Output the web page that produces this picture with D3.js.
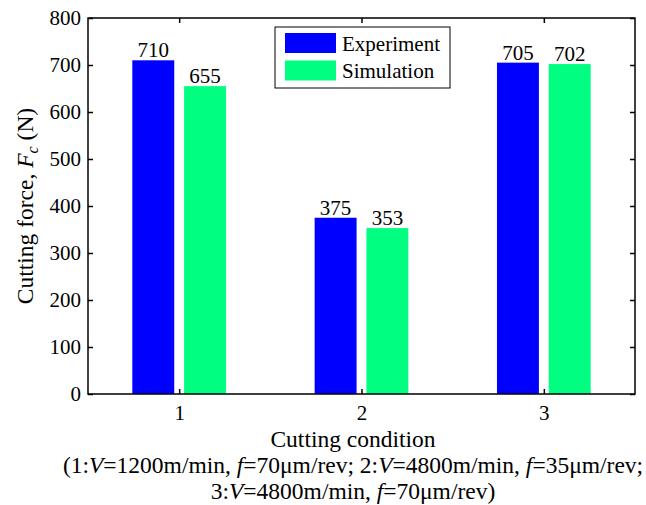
<!DOCTYPE html>
<html>
<head>
<meta charset="utf-8">
<script src="https://cdn.jsdelivr.net/npm/d3@7"></script>
<style>
  body { margin:0; background:#fff; }
  svg text { font-family:"Liberation Serif","Times New Roman",serif; fill:#000; }
</style>
</head>
<body>
<svg id="chart" width="646" height="505"></svg>
<script>
// data
const conditions = [1, 2, 3];
const experiment = [710, 375, 705];
const simulation = [655, 353, 702];
const seriesNames = ['Experiment', 'Simulation'];
const seriesColors = ['#0000ff', '#00ff80'];
const yTicks = [0, 100, 200, 300, 400, 500, 600, 700, 800];

const svg = d3.select('#chart');
const m = {left:88, right:635, top:18, bottom:394};
const fs = 21;    // ticks, values, legend
const lfs = 23.5; // axis labels

const x = d3.scaleLinear().domain([0.5, 3.5]).range([m.left, m.right]);
const y = d3.scaleLinear().domain([0, 800]).range([m.bottom, m.top]);

const barW = x(0.23) - x(0);
const offs = [-0.142, 0.142];
const series = [experiment, simulation];

// bars + value labels
series.forEach((vals, si) => {
  const g = svg.append('g');
  g.selectAll('rect').data(conditions).join('rect')
    .attr('x', d => x(d + offs[si]) - barW/2)
    .attr('y', (d,i) => y(vals[i]))
    .attr('width', barW)
    .attr('height', (d,i) => y(0) - y(vals[i]))
    .attr('fill', seriesColors[si]);
  g.selectAll('text').data(conditions).join('text')
    .attr('x', d => x(d + offs[si]))
    .attr('y', (d,i) => y(vals[i]) - 3)
    .attr('text-anchor', 'middle')
    .attr('font-size', fs)
    .text((d,i) => vals[i]);
});

// frame
svg.append('rect').attr('x', m.left).attr('y', m.top)
  .attr('width', m.right - m.left).attr('height', m.bottom - m.top)
  .attr('fill', 'none').attr('stroke', '#000').attr('stroke-width', 1.5);

// axes with inward ticks
const tl = 5;
const styleAxis = g => {
  g.select('.domain').remove();
  g.selectAll('text').attr('font-size', fs).style('font-family', '"Liberation Serif",serif').attr('fill', '#000');
  g.selectAll('line').attr('stroke', '#000').attr('stroke-width', 1.5);
};
svg.append('g').attr('transform', `translate(${m.left},0)`)
  .call(d3.axisLeft(y).tickValues(yTicks).tickSizeInner(-tl).tickSizeOuter(0).tickPadding(7))
  .call(styleAxis);
svg.append('g').attr('transform', `translate(${m.right},0)`)
  .call(d3.axisRight(y).tickValues(yTicks).tickSizeInner(-tl).tickSizeOuter(0).tickFormat(''))
  .call(styleAxis);
svg.append('g').attr('transform', `translate(0,${m.bottom})`)
  .call(d3.axisBottom(x).tickValues(conditions).tickSizeInner(-tl).tickSizeOuter(0).tickPadding(11).tickFormat(d3.format('d')))
  .call(styleAxis);
svg.append('g').attr('transform', `translate(0,${m.top})`)
  .call(d3.axisTop(x).tickValues(conditions).tickSizeInner(-tl).tickSizeOuter(0).tickFormat(''))
  .call(styleAxis);

// x labels
const cx = 353;
svg.append('text').attr('x', cx).attr('y', 447).attr('text-anchor', 'middle')
  .attr('font-size', lfs).text('Cutting condition');
const l2 = svg.append('text').attr('x', cx).attr('y', 473).attr('text-anchor', 'middle').attr('font-size', lfs);
[['(1:',0],['V',1],['=1200m/min, ',0],['f',1],['=70μm/rev; 2:',0],['V',1],['=4800m/min, ',0],['f',1],['=35μm/rev;',0]]
  .forEach(([t, it]) => l2.append('tspan').attr('font-style', it ? 'italic' : null).text(t));
const l3 = svg.append('text').attr('x', cx).attr('y', 499).attr('text-anchor', 'middle').attr('font-size', lfs);
[['3:',0],['V',1],['=4800m/min, ',0],['f',1],['=70μm/rev)',0]]
  .forEach(([t, it]) => l3.append('tspan').attr('font-style', it ? 'italic' : null).text(t));

// y label
const yl = svg.append('text')
  .attr('transform', `translate(33,${(m.top + m.bottom) / 2}) rotate(-90)`)
  .attr('text-anchor', 'middle').attr('font-size', lfs);
yl.append('tspan').text('Cutting force, ');
yl.append('tspan').attr('font-style', 'italic').text('F');
yl.append('tspan').attr('font-style', 'italic').attr('font-size', 16).attr('dy', 5).text('c');
yl.append('tspan').attr('dy', -5).text(' (N)');

// legend
const lg = svg.append('g').attr('transform', 'translate(275,27)');
lg.append('rect').attr('width', 175).attr('height', 61).attr('fill', '#fff').attr('stroke', '#000').attr('stroke-width', 1);
seriesNames.forEach((name, i) => {
  lg.append('rect').attr('x', 10).attr('y', 6 + i * 27.5).attr('width', 51).attr('height', 20).attr('fill', seriesColors[i]);
  lg.append('text').attr('x', 67).attr('y', 23.5 + i * 27.5).attr('font-size', fs).text(name);
});
</script>
</body>
</html>
